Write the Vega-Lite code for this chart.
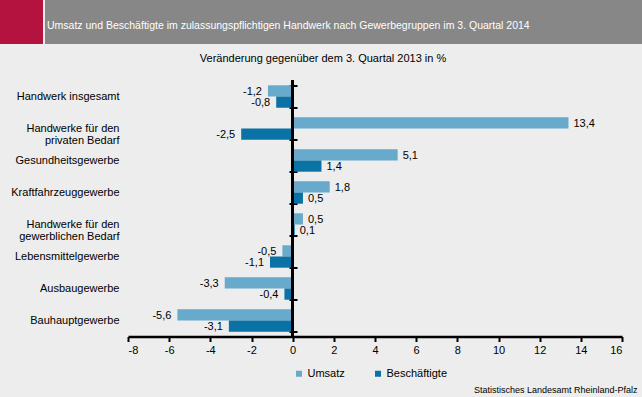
{
  "$schema": "https://vega.github.io/schema/vega-lite/v6.json",
  "background": "#ecedec",
  "padding": {"left": 0, "top": 0, "right": 0, "bottom": 3},
  "autosize": {"type": "pad"},
  "bounds": "full",
  "spacing": 8.5,
  "config": {
    "font": "Liberation Sans",
    "view": {"stroke": null},
    "locale": {"number": {"decimal": ",", "thousands": ".", "grouping": [3], "currency": ["", " €"], "minus": "-"}}
  },
  "vconcat": [
    {
      "spacing": 2,
      "bounds": "full",
      "hconcat": [
        {
          "width": 43, "height": 44,
          "view": {"fill": "#b5133f", "stroke": null},
          "data": {"values": [{}]},
          "mark": {"type": "point", "opacity": 0, "size": 0},
          "encoding": {}
        },
        {
          "width": 597, "height": 44,
          "view": {"fill": "#878787", "stroke": null},
          "title": {
            "text": "Umsatz und Beschäftigte im zulassungspflichtigen Handwerk nach Gewerbegruppen im 3. Quartal 2014",
            "anchor": "start", "frame": "group", "color": "#ffffff", "fontSize": 10.5,
            "font": "Liberation Sans", "fontWeight": "normal",
            "baseline": "middle", "offset": -36.5, "dx": 2
          },
          "data": {"values": [{}]},
          "mark": {"type": "point", "opacity": 0, "size": 0},
          "encoding": {}
        }
      ]
    },
    {
      "spacing": 2,
      "bounds": "flush",
      "hconcat": [
        {
          "width": 126, "height": 256,
          "data": {"values": [{}]},
          "mark": {"type": "point", "opacity": 0, "size": 0},
          "encoding": {}
        },
        {
          "width": 494, "height": 256,
          "title": {
            "text": "Veränderung gegenüber dem 3. Quartal 2013 in %",
            "anchor": "middle", "frame": "group", "fontSize": 11, "fontWeight": "normal",
            "color": "#000000", "baseline": "middle", "offset": 5, "dx": -52
          },
          "data": {"values": [
            {"Gruppe": "Handwerk insgesamt", "Reihe": "Umsatz", "Wert": -1.2},
            {"Gruppe": "Handwerk insgesamt", "Reihe": "Beschäftigte", "Wert": -0.8},
            {"Gruppe": "Handwerke für den privaten Bedarf", "Reihe": "Umsatz", "Wert": 13.4},
            {"Gruppe": "Handwerke für den privaten Bedarf", "Reihe": "Beschäftigte", "Wert": -2.5},
            {"Gruppe": "Gesundheitsgewerbe", "Reihe": "Umsatz", "Wert": 5.1},
            {"Gruppe": "Gesundheitsgewerbe", "Reihe": "Beschäftigte", "Wert": 1.4},
            {"Gruppe": "Kraftfahrzeuggewerbe", "Reihe": "Umsatz", "Wert": 1.8},
            {"Gruppe": "Kraftfahrzeuggewerbe", "Reihe": "Beschäftigte", "Wert": 0.5},
            {"Gruppe": "Handwerke für den gewerblichen Bedarf", "Reihe": "Umsatz", "Wert": 0.5},
            {"Gruppe": "Handwerke für den gewerblichen Bedarf", "Reihe": "Beschäftigte", "Wert": 0.1},
            {"Gruppe": "Lebensmittelgewerbe", "Reihe": "Umsatz", "Wert": -0.5},
            {"Gruppe": "Lebensmittelgewerbe", "Reihe": "Beschäftigte", "Wert": -1.1},
            {"Gruppe": "Ausbaugewerbe", "Reihe": "Umsatz", "Wert": -3.3},
            {"Gruppe": "Ausbaugewerbe", "Reihe": "Beschäftigte", "Wert": -0.4},
            {"Gruppe": "Bauhauptgewerbe", "Reihe": "Umsatz", "Wert": -5.6},
            {"Gruppe": "Bauhauptgewerbe", "Reihe": "Beschäftigte", "Wert": -3.1}
          ]},
          "encoding": {
            "y": {
              "field": "Gruppe", "type": "nominal", "sort": null,
              "scale": {"paddingInner": 0.3, "paddingOuter": 0.15},
              "axis": {
                "title": null, "orient": "left", "offset": -169, "domain": false,
                "tickBand": "extent", "tickSize": 8, "tickWidth": 2, "tickColor": "#000000",
                "labelPadding": 170, "labelFontSize": 11, "labelColor": "#000000",
                "labelLineHeight": 11.5, "labelLimit": 200,
                "labelExpr": "indexof(datum.label, 'für den') > 0 ? [slice(datum.label, 0, indexof(datum.label, 'für den') + 7), slice(datum.label, indexof(datum.label, 'für den') + 8)] : datum.label"
              }
            },
            "yOffset": {"field": "Reihe", "type": "nominal", "sort": ["Umsatz", "Beschäftigte"]},
            "x": {
              "field": "Wert", "type": "quantitative",
              "scale": {"domain": [-8, 16], "nice": false, "zero": false},
              "axis": {
                "values": [-8, -6, -4, -2, 0, 2, 4, 6, 8, 10, 12, 14, 16],
                "format": "d", "grid": false,
                "domainColor": "#000000", "domainWidth": 2.5,
                "tickColor": "#000000", "tickWidth": 2, "tickSize": 5,
                "labelFontSize": 11, "labelColor": "#000000", "labelPadding": 3,
                "title": "Statistisches Landesamt Rheinland-Pfalz",
                "titleFont": "Liberation Sans", "titleFontSize": 9, "titleFontWeight": "normal",
                "titleColor": "#000000", "titleAlign": "right", "titleBaseline": "middle",
                "titleX": 509, "titleY": 52.5, "titleAnchor": null
              }
            }
          },
          "layer": [
            {
              "mark": {"type": "bar"},
              "encoding": {
                "color": {
                  "field": "Reihe", "type": "nominal",
                  "scale": {"domain": ["Umsatz", "Beschäftigte"], "range": ["#67aacb", "#0a72a4"]},
                  "legend": {
                    "title": null, "orient": "none", "direction": "horizontal",
                    "legendX": 293.5, "legendY": 368, "padding": 0,
                    "symbolType": "square", "symbolSize": 36, "symbolStrokeWidth": 0,
                    "labelFontSize": 11, "labelColor": "#000000", "labelOffset": 3,
                    "columnPadding": 27
                  }
                }
              }
            },
            {
              "mark": {"type": "rule", "color": "#000000", "strokeWidth": 2},
              "encoding": {"x": {"datum": 0}, "y": null, "yOffset": null}
            },
            {
              "transform": [{"filter": "datum.Wert >= 0"}],
              "mark": {"type": "text", "align": "left", "baseline": "middle", "dx": 5, "dy": 1, "fontSize": 11, "color": "#000000"},
              "encoding": {"text": {"field": "Wert", "type": "quantitative", "format": ".1f"}}
            },
            {
              "transform": [{"filter": "datum.Wert < 0"}],
              "mark": {"type": "text", "align": "right", "baseline": "middle", "dx": -6, "dy": 1, "fontSize": 11, "color": "#000000"},
              "encoding": {"text": {"field": "Wert", "type": "quantitative", "format": ".1f"}}
            }
          ]
        }
      ]
    }
  ]
}
